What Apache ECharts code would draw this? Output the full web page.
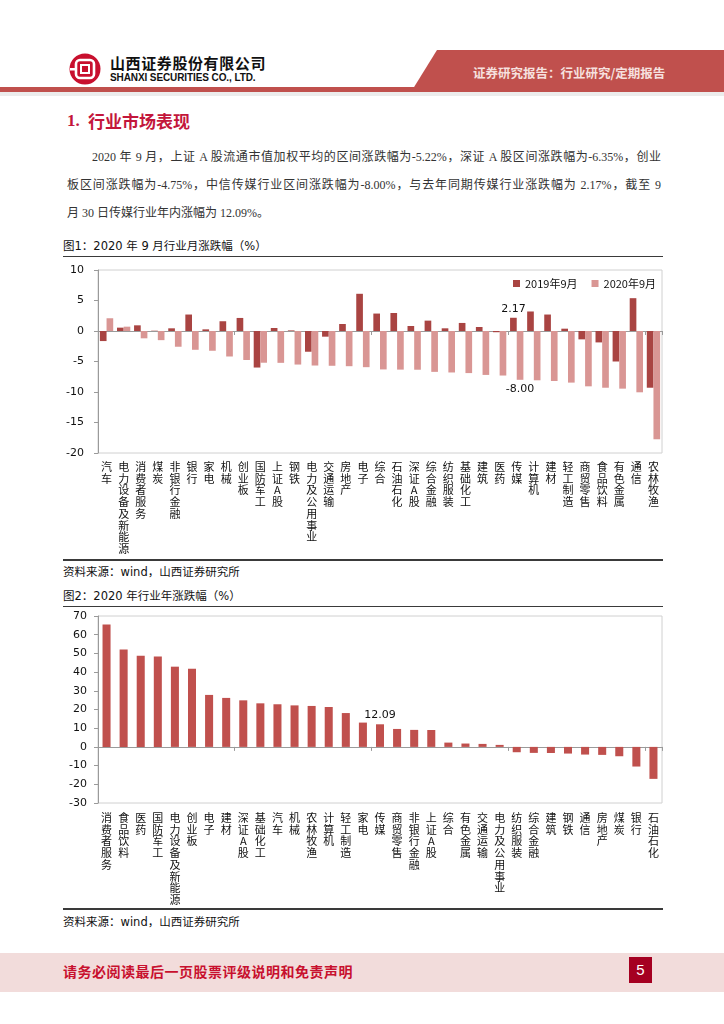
<!DOCTYPE html>
<html>
<head>
<meta charset="utf-8">
<script src="https://cdn.jsdelivr.net/npm/echarts@6/dist/echarts.min.js"></script>
<style>
  html,body{margin:0;padding:0;background:#fff;}
  #page{position:relative;width:724px;height:1024px;overflow:hidden;font-family:"Noto Sans CJK SC",sans-serif;}
  .abs{position:absolute;}
  .para{position:absolute;font-family:"Liberation Serif","Noto Sans CJK SC",serif;font-size:12px;color:#333;line-height:16px;white-space:nowrap;}
  .just{text-align:justify;text-align-last:justify;white-space:normal;}
  .cap{position:absolute;left:63px;font-family:"DejaVu Sans","Noto Sans CJK SC",sans-serif;font-size:11.5px;color:#111;line-height:16px;white-space:nowrap;}
  .rule{position:absolute;left:63px;width:600px;height:1.5px;background:#3a3a3a;}
</style>
</head>
<body>
<div id="page">
  <!-- header -->
  <svg class="abs" style="left:0;top:0" width="724" height="100">
    <polygon points="437,50 724,50 724,92 411,92" fill="#c0504d"/>
    <rect x="0" y="87" width="724" height="5" fill="#c0504d"/>
    <rect x="0" y="92" width="724" height="4" fill="#ececec"/>
    <circle cx="85" cy="69" r="15.5" fill="#c8102e"/>
    <rect x="76" y="60" width="18" height="18" rx="4" fill="none" stroke="#fff" stroke-width="2.6"/>
    <rect x="81" y="65" width="8" height="8" fill="none" stroke="#fff" stroke-width="2"/>
    <rect x="70" y="68" width="6" height="2.5" fill="#fff"/>
  </svg>
  <div class="abs" style="left:110px;top:53px;font-size:15px;font-weight:bold;color:#111;letter-spacing:0.6px;line-height:20px;">山西证券股份有限公司</div>
  <div class="abs" style="left:110px;top:71px;font-family:'Liberation Sans',Arial,sans-serif;font-size:10px;font-weight:bold;color:#111;line-height:14px;letter-spacing:-0.1px;">SHANXI SECURITIES CO., LTD.</div>
  <div class="abs" style="left:473px;top:64px;font-size:12.5px;font-weight:bold;color:#f6e0df;line-height:18px;white-space:nowrap;">证券研究报告：行业研究/定期报告</div>

  <!-- section title -->
  <div class="abs" style="left:67px;top:110px;font-family:'Liberation Serif',serif;font-size:17px;font-weight:bold;color:#c3163b;line-height:22px;">1.</div>
  <div class="abs" style="left:88px;top:110px;font-size:17px;font-weight:bold;color:#c3163b;line-height:22px;white-space:nowrap;">行业市场表现</div>

  <!-- paragraph -->
  <div class="para just" style="left:92px;top:149px;width:569px;">2020 年 9 月，上证 A 股流通市值加权平均的区间涨跌幅为-5.22%，深证 A 股区间涨跌幅为-6.35%，创业</div>
  <div class="para just" style="left:67px;top:177px;width:594px;">板区间涨跌幅为-4.75%，中信传媒行业区间涨跌幅为-8.00%，与去年同期传媒行业涨跌幅为 2.17%，截至 9</div>
  <div class="para" style="left:67px;top:205px;">月 30 日传媒行业年内涨幅为 12.09%。</div>

  <!-- figure 1 -->
  <div class="cap" style="top:238px;">图1：2020 年 9 月行业月涨跌幅（%）</div>
  <div class="rule" style="top:255.5px;"></div>
  <div id="c1" class="abs" style="left:0;top:257px;width:724px;height:302px;"></div>
  <div class="rule" style="top:559px;"></div>
  <div class="cap" style="top:564px;">资料来源：wind，山西证券研究所</div>

  <!-- figure 2 -->
  <div class="cap" style="top:588px;">图2：2020 年行业年涨跌幅（%）</div>
  <div class="rule" style="top:605.5px;"></div>
  <div id="c2" class="abs" style="left:0;top:607px;width:724px;height:301px;"></div>
  <div class="rule" style="top:908px;"></div>
  <div class="cap" style="top:914px;">资料来源：wind，山西证券研究所</div>

  <!-- footer -->
  <div class="abs" style="left:0;top:953px;width:724px;height:39px;background:#f2dcdb;"></div>
  <div class="abs" style="left:63px;top:962px;font-size:14px;font-weight:bold;color:#c8102e;letter-spacing:0.5px;line-height:18px;white-space:nowrap;">请务必阅读最后一页股票评级说明和免责声明</div>
  <div class="abs" style="left:629px;top:957px;width:23px;height:26px;background:#a50021;color:#fff;font-family:'Liberation Sans',sans-serif;font-size:15px;line-height:26px;text-align:center;">5</div>
</div>
<script>
// ---- Figure 1 data: 2020年9月行业月涨跌幅 (%) ----
var cats1 = ['汽车','电力设备及新能源','消费者服务','煤炭','非银行金融','银行','家电','机械','创业板','国防军工','上证A股','钢铁','电力及公用事业','交通运输','房地产','电子','综合','石油石化','深证A股','综合金融','纺织服装','基础化工','建筑','医药','传媒','计算机','建材','轻工制造','商贸零售','食品饮料','有色金属','通信','农林牧渔'];
var sep2019 = [-1.65, 0.55, 0.93, 0.05, 0.44, 2.70, 0.27, 1.60, 2.14, -5.99, 0.49, 0.10, -3.40, -0.93, 1.15, 6.10, 2.86, 2.95, 0.82, 1.70, 0.44, 1.32, 0.66, -0.20, 2.17, 3.20, 2.70, 0.38, -1.37, -1.87, -5.00, 5.38, -9.30];
var sep2020 = [2.09, 0.71, -1.20, -1.50, -2.58, -3.08, -3.24, -4.18, -4.75, -5.20, -5.22, -5.50, -5.66, -5.70, -5.77, -5.93, -6.30, -6.33, -6.35, -6.70, -6.80, -6.90, -7.20, -7.30, -8.00, -8.08, -8.20, -8.46, -9.07, -9.30, -9.45, -10.05, -17.75];
var seriesNames1 = ['2019年9月', '2020年9月'];
var ticks1 = {min: -20, max: 10, interval: 5};

// ---- Figure 2 data: 2020年行业年涨跌幅 (%) ----
var cats2 = ['消费者服务','食品饮料','医药','国防军工','电力设备及新能源','创业板','电子','建材','深证A股','基础化工','汽车','机械','农林牧渔','计算机','轻工制造','家电','传媒','商贸零售','非银行金融','上证A股','综合','有色金属','交通运输','电力及公用事业','纺织服装','综合金融','建筑','钢铁','通信','房地产','煤炭','银行','石油石化'];
var ytd2020 = [65.5, 52.1, 48.75, 48.4, 42.9, 41.8, 27.8, 26.2, 24.9, 23.3, 22.8, 22.2, 21.9, 21.35, 18.1, 13.0, 12.09, 9.6, 9.1, 9.05, 2.3, 1.8, 1.6, 1.07, -2.85, -3.2, -3.25, -3.56, -4.1, -4.27, -5.0, -10.5, -17.1];
var ticks2 = {min: -30, max: 70, interval: 10};

var highlightCat = '传媒';

var NUMFONT = '"DejaVu Sans","Noto Sans CJK SC",sans-serif';
var LBLFONT = '"Noto Sans CJK SC","DejaVu Sans",sans-serif';

function vertical(v){ return v.split('').join('\n'); }

function withLabel(vals, cats, pos, dist){
  return vals.map(function(v, i){
    if (cats[i] === highlightCat) {
      return {value: v, label: {show: true, position: pos, distance: dist, formatter: function(p){ return p.value.toFixed(2); }, fontSize: 11, fontFamily: NUMFONT, color: '#111'}};
    }
    return v;
  });
}

function baseX(cats, margin){
  return [
    {type:'category', data:cats, position:'bottom',
     axisLine:{show:false, onZero:false}, axisTick:{show:false},
     axisLabel:{interval:0, formatter:vertical, fontSize:11, lineHeight:11.7, margin:margin, color:'#111', fontFamily:LBLFONT, verticalAlign:'top'}},
    {type:'category', data:cats, position:'top',
     axisLine:{show:true, onZero:true, lineStyle:{color:'#9a9a9a', width:1}},
     axisTick:{show:true, inside:true, length:4, lineStyle:{color:'#9a9a9a'}},
     axisLabel:{show:false}}
  ];
}

function baseY(t, margin){
  return {type:'value', min:t.min, max:t.max, interval:t.interval,
    axisLine:{show:true, lineStyle:{color:'#9a9a9a'}},
    axisTick:{show:true, length:4, lineStyle:{color:'#9a9a9a'}},
    splitLine:{show:false},
    axisLabel:{margin:margin, fontSize:11, color:'#111', fontFamily:NUMFONT}};
}

var c1 = echarts.init(document.getElementById('c1'), null, {renderer:'canvas'});
c1.setOption({
  animation:false,
  grid:{left:98, right:62, top:13, bottom:106, show:true, borderColor:'#d0d0d0', borderWidth:1},
  legend:{left:508, top:16, itemWidth:7, itemHeight:7, itemGap:14, icon:'rect',
    textStyle:{fontSize:11, fontFamily:LBLFONT, color:'#111'}, data:seriesNames1},
  xAxis: baseX(cats1, 8),
  yAxis: baseY(ticks1, 14),
  series:[
    {name:seriesNames1[0], type:'bar', xAxisIndex:0, data:withLabel(sep2019, cats1, 'top', 3),
     itemStyle:{color:'#a94442'}, barGap:'0%', barCategoryGap:'22%'},
    {name:seriesNames1[1], type:'bar', xAxisIndex:0, data:withLabel(sep2020, cats1, 'bottom', 4),
     itemStyle:{color:'#d99694'}, barGap:'0%', barCategoryGap:'22%'}
  ]
});

var c2 = echarts.init(document.getElementById('c2'), null, {renderer:'canvas'});
c2.setOption({
  animation:false,
  grid:{left:98, right:62, top:9, bottom:105, show:true, borderColor:'#d0d0d0', borderWidth:1},
  xAxis: baseX(cats2, 9),
  yAxis: baseY(ticks2, 11),
  series:[
    {name:'2020年', type:'bar', xAxisIndex:0, data:withLabel(ytd2020, cats2, 'top', 4),
     itemStyle:{color:'#c0504d'}, barWidth:'47%'}
  ]
});
</script>
</body>
</html>
